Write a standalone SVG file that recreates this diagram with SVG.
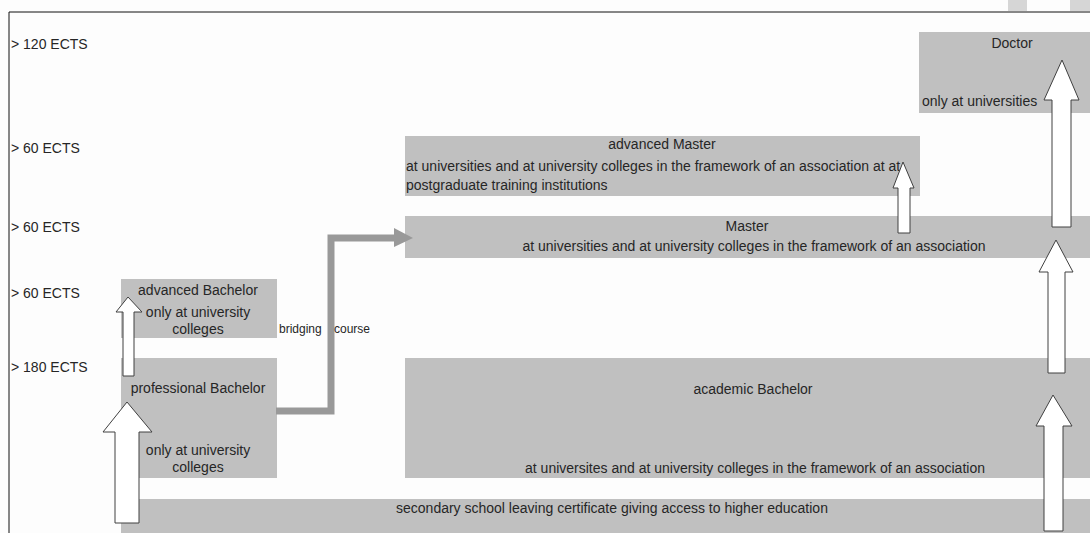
<svg xmlns="http://www.w3.org/2000/svg" width="1090" height="533" viewBox="0 0 1090 533">
<style>
.box{fill:#c0c0c0}
.t{font-family:"Liberation Sans",Arial,sans-serif;font-size:14px;fill:#262626}
.s{font-family:"Liberation Sans",Arial,sans-serif;font-size:12px;fill:#262626}
.m{text-anchor:middle}
.arr{fill:#ffffff;stroke:#404040;stroke-width:1;stroke-linejoin:miter}
.conn{fill:none;stroke:#999999;stroke-width:7}
</style>
<rect x="0" y="0" width="1090" height="533" fill="#fdfdfd"/>
<rect x="1008" y="0" width="19" height="11" fill="#d6d6d6"/>
<rect x="1070" y="0" width="20" height="11" fill="#d6d6d6"/>
<path d="M9,533 V12 H1090" fill="none" stroke="#111" stroke-width="1"/>
<g id="levels">
<text class="t" x="11" y="49">&gt; 120 ECTS</text>
<text class="t" x="11" y="153">&gt; 60 ECTS</text>
<text class="t" x="11" y="232">&gt; 60 ECTS</text>
<text class="t" x="11" y="298">&gt; 60 ECTS</text>
<text class="t" x="11" y="372">&gt; 180 ECTS</text>
</g>
<g id="doctor">
<rect class="box" x="919" y="32" width="171" height="81"/>
<text class="t m" x="1012" y="48">Doctor</text>
<text class="t" x="922" y="106">only at universities</text>
</g>
<g id="advanced-master">
<rect class="box" x="405" y="136" width="515" height="60"/>
<text class="t m" x="662" y="149">advanced Master</text>
<text class="t" x="406" y="171">at universities and at university colleges in the framework of an association at at</text>
<text class="t" x="406" y="190">postgraduate training institutions</text>
</g>
<g id="master">
<rect class="box" x="405" y="216" width="685" height="42"/>
<text class="t m" x="747" y="231">Master</text>
<text class="t m" x="754" y="251">at universities and at university colleges in the framework of an association</text>
</g>
<g id="advanced-bachelor">
<rect class="box" x="121" y="279" width="156" height="59"/>
<text class="t m" x="198" y="295">advanced Bachelor</text>
<text class="t m" x="198" y="317">only at university</text>
<text class="t m" x="198" y="334">colleges</text>
</g>
<g id="professional-bachelor">
<rect class="box" x="121" y="358" width="156" height="120"/>
<text class="t m" x="198" y="393">professional Bachelor</text>
<text class="t m" x="198" y="455">only at university</text>
<text class="t m" x="198" y="472">colleges</text>
</g>
<g id="academic-bachelor">
<rect class="box" x="405" y="358" width="685" height="120"/>
<text class="t m" x="753" y="394">academic Bachelor</text>
<text class="t m" x="755" y="473">at universites and at university colleges in the framework of an association</text>
</g>
<g id="secondary">
<rect class="box" x="121" y="499" width="969" height="34"/>
<text class="t m" x="612" y="513">secondary school leaving certificate giving access to higher education</text>
</g>
<g id="connectors">
<polyline class="conn" points="276,411 331,411 331,238 395,238"/>
<polygon points="394,228 413,238 394,247" fill="#999999"/>
<text class="s" x="279" y="333">bridging</text>
<text class="s" x="334" y="333">course</text>
<polygon class="arr" points="115,523 115,432 103,432 127,402 152,432 139,432 139,523"/>
<polygon class="arr" points="123,376 123,312 116,312 128,297 142,312 134,312 134,376"/>
<polygon class="arr" points="898,233 898,188 893,188 903,162 914,188 910,188 910,233"/>
<polygon class="arr" points="1052,227 1052,100 1044,100 1062,60 1079,100 1071,100 1071,227"/>
<polygon class="arr" points="1048,373 1048,272 1039,272 1056,240 1073,272 1065,272 1065,373"/>
<polygon class="arr" points="1044,531 1044,426 1036,426 1053,395 1072,426 1063,426 1063,531"/>
</g>
</svg>
